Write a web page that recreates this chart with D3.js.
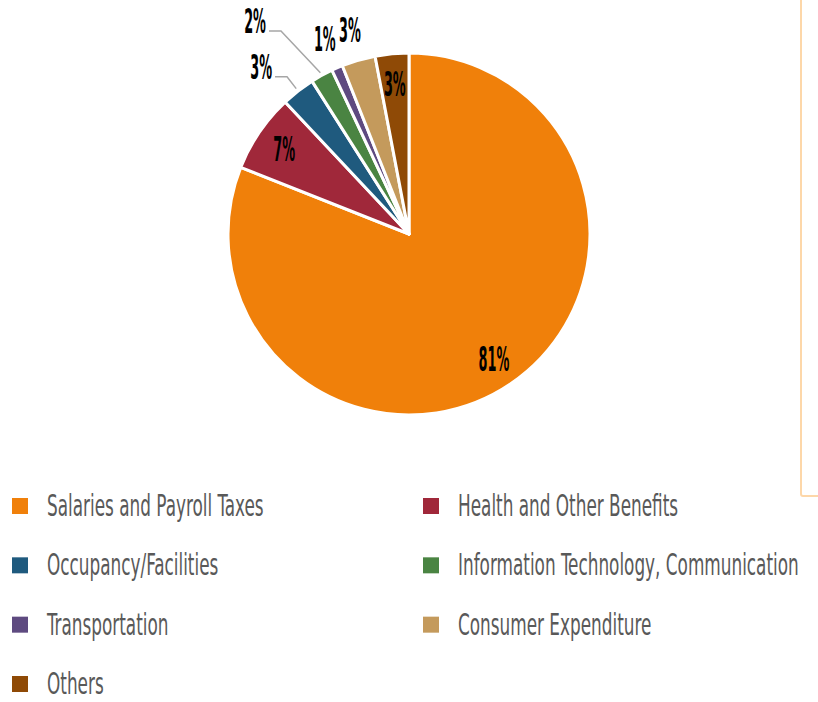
<!DOCTYPE html>
<html>
<head>
<meta charset="utf-8">
<script src="https://cdn.jsdelivr.net/npm/d3@7"></script>
<style>
  body { margin: 0; background: #fff; }
  svg { display: block; }
</style>
</head>
<body>
<script>
// expense breakdown pie

var categories = ['Salaries and Payroll Taxes', 'Health and Other Benefits', 'Occupancy/Facilities',
  'Information Technology, Communication', 'Transportation', 'Consumer Expenditure', 'Others'];
var values = [81, 7, 3, 2, 1, 3, 3];
var labels = ['81%', '7%', '3%', '2%', '1%', '3%', '3%'];
var colors = ['#f0800a', '#a0283a', '#1f5a7e', '#4a8442', '#5e4a80', '#c49a5c', '#8f4a06'];

var W = 818, H = 702;
var cx = 409, cy = 234, r = 181;

var svg = d3.select('body').append('svg')
    .attr('width', W)
    .attr('height', H);

// faint box edge on the right
svg.append('path')
  .attr('d', 'M801,0 L801,494 Q801,496 803,496 L818,496')
  .attr('fill', 'none')
  .attr('stroke', '#fdd7a9')
  .attr('stroke-width', 2);

var pie = d3.pie().sort(null).value(function (d) { return d; });
var arcs = pie(values);

var arc = d3.arc().innerRadius(0).outerRadius(r);

var g = svg.append('g')
    .attr('transform', 'translate(' + cx + ',' + cy + ')');

g.selectAll('path.slice')
  .data(arcs)
  .enter()
  .append('path')
  .attr('class', 'slice')
  .attr('d', arc)
  .attr('fill', function (d, i) { return colors[i]; })
  .attr('stroke', '#fff')
  .attr('stroke-width', 3)
  .attr('stroke-linejoin', 'round');

// where each label goes: inside, outside, or outside with a leader
var place = ['in', 'in', 'lead', 'lead', 'out', 'out', 'in'];
var leadR = {2: 199, 3: 240};
var leadShift = {2: 0, 3: -0.06};

function pt(angle, rad) {
  return [Math.sin(angle) * rad, -Math.cos(angle) * rad];
}

var lblFont = 34, lblScale = 0.42;

arcs.forEach(function (d, i) {
  var mid = (d.startAngle + d.endAngle) / 2;
  var x, y, anchor = 'middle';
  if (place[i] === 'in') {
    var p = pt(mid, 151);
    x = p[0]; y = p[1] + 12;
  } else if (place[i] === 'out') {
    var p = pt(mid, 212);
    x = p[0]; y = p[1] + 12;
  } else {
    var a = pt(mid, r + 3);
    var e = pt(mid + leadShift[i], leadR[i]);
    var hx = e[0] - 12;
    g.append('polyline')
      .attr('points', [a, e, [hx, e[1]]].map(function (q) { return q.join(','); }).join(' '))
      .attr('fill', 'none')
      .attr('stroke', '#a6a6a6')
      .attr('stroke-width', 1.5);
    x = hx - 3; y = e[1] + 2;
    anchor = 'end';
  }
  g.append('text')
    .attr('transform', 'translate(' + x + ',' + y + ') scale(' + lblScale + ',1)')
    .attr('text-anchor', anchor)
    .attr('font-family', "'Liberation Sans Narrow', 'DejaVu Sans Condensed', sans-serif")
    .attr('font-weight', 'bold')
    .attr('font-size', lblFont + 'px')
    .attr('fill', '#000')
    .text(labels[i]);
});

// legend, two columns
var colX = [12, 423];
var rowY = d3.scaleLinear().domain([0, 3]).range([506, 684]);

var leg = svg.selectAll('g.leg')
  .data(categories)
  .enter()
  .append('g')
  .attr('class', 'leg')
  .attr('transform', function (d, i) {
    return 'translate(' + colX[i % 2] + ',' + rowY(Math.floor(i / 2)) + ')';
  });

leg.append('rect')
  .attr('x', 0)
  .attr('y', -8)
  .attr('width', 16)
  .attr('height', 16)
  .attr('fill', function (d, i) { return colors[i]; });

leg.append('text')
  .attr('transform', 'translate(35,10) scale(0.605,1)')
  .attr('font-family', "'Liberation Sans Narrow', 'DejaVu Sans Condensed', sans-serif")
  .attr('font-size', '31px')
  .attr('fill', '#595959')
  .text(function (d) { return d; });
</script>
</body>
</html>
